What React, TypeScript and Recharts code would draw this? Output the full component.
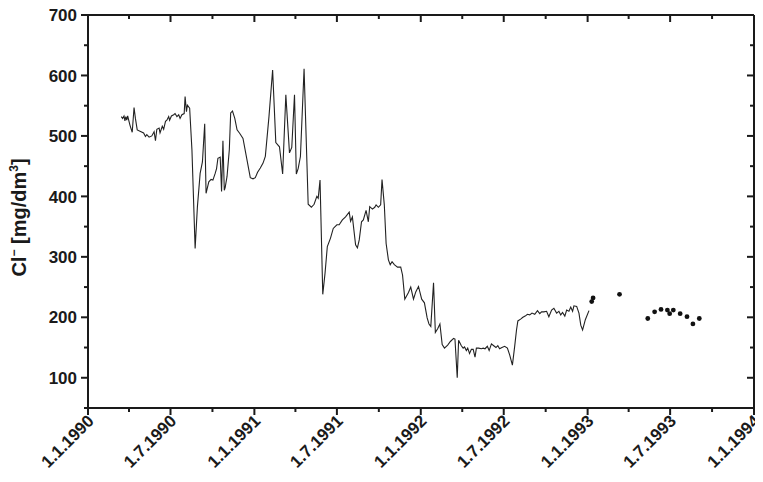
import { ComposedChart, Line, Scatter, XAxis, YAxis, Label } from "recharts";

// sampling dates of the continuous record
const lineDates = [
  "1990-03-15", "1990-03-18", "1990-03-21", "1990-03-23", "1990-03-25", "1990-03-27", "1990-03-29",
  "1990-04-03", "1990-04-08", "1990-04-12", "1990-04-15", "1990-04-19", "1990-05-03", "1990-05-07",
  "1990-05-10", "1990-05-15", "1990-05-21", "1990-05-26", "1990-05-29", "1990-06-01", "1990-06-06",
  "1990-06-08", "1990-06-13", "1990-06-16", "1990-06-20", "1990-06-23", "1990-06-27", "1990-06-29",
  "1990-07-03", "1990-07-08", "1990-07-11", "1990-07-15", "1990-07-19", "1990-07-22", "1990-07-26",
  "1990-07-31", "1990-08-02", "1990-08-05", "1990-08-07", "1990-08-12", "1990-08-17", "1990-08-24",
  "1990-08-29", "1990-09-04", "1990-09-09", "1990-09-14", "1990-09-17", "1990-09-23", "1990-09-28",
  "1990-10-02", "1990-10-07", "1990-10-10", "1990-10-13", "1990-10-18", "1990-10-21", "1990-10-24",
  "1990-10-27", "1990-10-29", "1990-11-02", "1990-11-07", "1990-11-10", "1990-11-14", "1990-11-19",
  "1990-11-24", "1990-11-30", "1990-12-07", "1990-12-23", "1990-12-29", "1991-01-03", "1991-01-08",
  "1991-01-14", "1991-01-20", "1991-01-25", "1991-02-02", "1991-02-10", "1991-02-17", "1991-02-25",
  "1991-03-04", "1991-03-11", "1991-03-19", "1991-03-24", "1991-03-30", "1991-04-03", "1991-04-07",
  "1991-04-12", "1991-04-20", "1991-04-29", "1991-05-06", "1991-05-12", "1991-05-18", "1991-05-21",
  "1991-05-25", "1991-05-31", "1991-06-05", "1991-06-10", "1991-06-17", "1991-06-23", "1991-07-01",
  "1991-07-06", "1991-07-13", "1991-07-20", "1991-07-28", "1991-07-31", "1991-08-04", "1991-08-11",
  "1991-08-15", "1991-08-19", "1991-08-24", "1991-08-28", "1991-09-03", "1991-09-08", "1991-09-11",
  "1991-09-17", "1991-09-22", "1991-09-25", "1991-09-30", "1991-10-05", "1991-10-08", "1991-10-13",
  "1991-10-17", "1991-10-22", "1991-10-26", "1991-10-30", "1991-11-04", "1991-11-11", "1991-11-18",
  "1991-11-22", "1991-11-27", "1991-12-05", "1991-12-10", "1991-12-16", "1991-12-21", "1991-12-27",
  "1992-01-03", "1992-01-09", "1992-01-15", "1992-01-19", "1992-01-23", "1992-01-29", "1992-02-02",
  "1992-02-07", "1992-02-12", "1992-02-17", "1992-02-22", "1992-02-29", "1992-03-06", "1992-03-13",
  "1992-03-16", "1992-03-21", "1992-03-24", "1992-03-30", "1992-04-03", "1992-04-06", "1992-04-10",
  "1992-04-13", "1992-04-17", "1992-04-21", "1992-04-25", "1992-04-29", "1992-05-02", "1992-05-07",
  "1992-05-13", "1992-05-17", "1992-05-21", "1992-05-26", "1992-05-30", "1992-06-04", "1992-06-09",
  "1992-06-14", "1992-06-18", "1992-06-22", "1992-06-27", "1992-07-03", "1992-07-09", "1992-07-14",
  "1992-07-20", "1992-07-25", "1992-07-29", "1992-08-01", "1992-08-07", "1992-08-12", "1992-08-17",
  "1992-08-22", "1992-08-27", "1992-09-01", "1992-09-07", "1992-09-13", "1992-09-18", "1992-09-22",
  "1992-09-27", "1992-10-03", "1992-10-08", "1992-10-14", "1992-10-19", "1992-10-25", "1992-10-30",
  "1992-11-03", "1992-11-07", "1992-11-12", "1992-11-16", "1992-11-21", "1992-11-25", "1992-11-29",
  "1992-12-02", "1992-12-08", "1992-12-13", "1992-12-17", "1992-12-21", "1992-12-27", "1993-01-04",
];

// Cl- concentration, mg/dm3
const lineValues = [
  532, 529, 533, 525, 532, 526, 533,
  518, 506, 547, 529, 510, 505, 499,
  502, 498, 500, 507, 492, 511, 513,
  505, 516, 511, 524, 526, 532, 526,
  533, 535, 537, 532, 535, 529, 535,
  537, 565, 540, 551, 546, 477, 314,
  383, 438, 457, 520, 405, 424, 428,
  427, 438, 446, 463, 465, 408, 492,
  410, 415, 433, 477, 538, 541, 529,
  510, 504, 496, 431, 429, 431, 440,
  447, 455, 466, 532, 609, 489, 482,
  437, 568, 472, 481, 568, 437, 446,
  466, 611, 387, 382, 387, 400, 397,
  427, 238, 273, 317, 331, 347, 353,
  353, 361, 366, 374, 359, 366, 320,
  315, 328, 358, 361, 377, 358, 383,
  379, 382, 386, 382, 386, 428, 386,
  322, 295, 287, 292, 287, 283, 283,
  270, 230, 241, 250, 230, 242, 251,
  230, 224, 199, 189, 185, 257, 175,
  181, 189, 155, 149, 154, 160, 165,
  164, 100, 162, 153, 149, 151, 145,
  149, 140, 147, 147, 134, 149, 149,
  148, 149, 148, 152, 145, 156, 153,
  150, 153, 148, 150, 152, 149, 138,
  121, 152, 179, 194, 197, 200, 202,
  205, 204, 207, 205, 211, 206, 209,
  209, 210, 201, 212, 215, 207, 210,
  204, 208, 202, 212, 210, 217, 210,
  219, 218, 207, 187, 179, 196, 211,
];

// single measurements shown as points
const dotDates = [
  "1993-01-10", "1993-01-13", "1993-03-12", "1993-05-13", "1993-05-28", "1993-06-11", "1993-06-25",
  "1993-06-30", "1993-07-08", "1993-07-23", "1993-08-07", "1993-08-20", "1993-09-03",
];
const dotValues = [226, 232, 238, 198, 209, 213, 212, 206, 212, 206, 201, 189, 198];

const xTickDates = [
  "1990-01-01", "1990-04-01", "1990-07-01", "1990-10-01",
  "1991-01-01", "1991-04-01", "1991-07-01", "1991-10-01",
  "1992-01-01", "1992-04-01", "1992-07-01", "1992-10-01",
  "1993-01-01", "1993-04-01", "1993-07-01", "1993-10-01",
  "1994-01-01",
];
const yTicks = [50, 100, 150, 200, 250, 300, 350, 400, 450, 500, 550, 600, 650, 700];

const toTime = (s: string) => Date.parse(s);
const lineData = lineDates.map((d, i) => ({ t: toTime(d), v: lineValues[i] }));
const dotData = dotDates.map((d, i) => ({ t: toTime(d), v: dotValues[i] }));
const xTicks = xTickDates.map(toTime);
const xDomain = [xTicks[0], xTicks[xTicks.length - 1]];

const FONT = "'Liberation Sans', Arial, sans-serif";
const INK = "#1a1a1a";

function XTick(props: any) {
  const { x, y, payload, inner } = props;
  const d = new Date(payload.value);
  const m = d.getUTCMonth();
  const major = m === 0 || m === 6;
  const len = major ? 7 : 4;
  const label = `1.${m + 1}.${d.getUTCFullYear()}`;
  return (
    <g>
      <line x1={x} y1={y} x2={x} y2={y + len} stroke={INK} strokeWidth={2} />
      {!inner && major && (
        <text
          x={x + 7}
          y={y + 14}
          transform={`rotate(-45 ${x + 7} ${y + 14})`}
          textAnchor="end"
          fontFamily={FONT}
          fontWeight="bold"
          fontSize={17}
          fill={INK}
        >
          {label}
        </text>
      )}
    </g>
  );
}

function YTick(props: any) {
  const { x, y, payload, inner } = props;
  const v = payload.value;
  const major = v % 100 === 0;
  const len = major ? 7 : 4;
  return (
    <g>
      <line x1={x - len} y1={y} x2={x} y2={y} stroke={INK} strokeWidth={2} />
      {!inner && major && (
        <text x={x - 11} y={y} dy="0.36em" textAnchor="end" fontFamily={FONT} fontWeight="bold" fontSize={17} fill={INK}>
          {v}
        </text>
      )}
    </g>
  );
}

function YLabel(props: any) {
  const vb = props.viewBox || { x: 0, y: 0, height: 0 };
  const cx = 26;
  const cy = vb.y + vb.height / 2 + 6;
  return (
    <text
      x={cx}
      y={cy}
      transform={`rotate(-90 ${cx} ${cy})`}
      textAnchor="middle"
      fontFamily={FONT}
      fontWeight="bold"
      fontSize={20}
      fill={INK}
    >
      Cl<tspan dy={-8} fontSize={12}>−</tspan>
      <tspan dy={8}> [mg/dm</tspan>
      <tspan dy={-8} fontSize={12}>3</tspan>
      <tspan dy={8}>]</tspan>
    </text>
  );
}

const axisLine = { stroke: INK, strokeWidth: 2 };

export default function App() {
  return (
    <div style={{ margin: -8, width: 763, height: 482 }}>
      <ComposedChart width={763} height={482} margin={{ top: 14, right: 8, bottom: 0, left: 0 }}>
        <XAxis
          dataKey="t"
          type="number"
          domain={xDomain}
          ticks={xTicks}
          interval={0}
          allowDataOverflow
          height={74}
          tickSize={0}
          tickMargin={0}
          axisLine={axisLine}
          tickLine={false}
          tick={<XTick />}
        />
        <XAxis
          xAxisId="top"
          orientation="top"
          dataKey="t"
          type="number"
          domain={xDomain}
          ticks={xTicks}
          interval={0}
          allowDataOverflow
          height={1}
          tickSize={0}
          tickMargin={0}
          axisLine={axisLine}
          tickLine={false}
          tick={<XTick inner />}
        />
        <YAxis
          type="number"
          domain={[50, 700]}
          ticks={yTicks}
          interval={0}
          allowDataOverflow
          width={88}
          tickSize={0}
          tickMargin={0}
          axisLine={axisLine}
          tickLine={false}
          tick={<YTick />}
        >
          <Label content={<YLabel />} />
        </YAxis>
        <YAxis
          yAxisId="right"
          orientation="right"
          type="number"
          domain={[50, 700]}
          ticks={yTicks}
          interval={0}
          allowDataOverflow
          width={1}
          tickSize={0}
          tickMargin={0}
          axisLine={axisLine}
          tickLine={false}
          tick={<YTick inner />}
        />
        <Line
          data={lineData}
          dataKey="v"
          type="linear"
          stroke="#222"
          strokeWidth={1.1}
          dot={false}
          activeDot={false}
          isAnimationActive={false}
        />
        <Scatter
          data={dotData}
          dataKey="v"
          fill="#111"
          shape={(p: any) => <circle cx={p.cx} cy={p.cy} r={2.4} fill="#111" />}
          isAnimationActive={false}
        />
      </ComposedChart>
    </div>
  );
}
